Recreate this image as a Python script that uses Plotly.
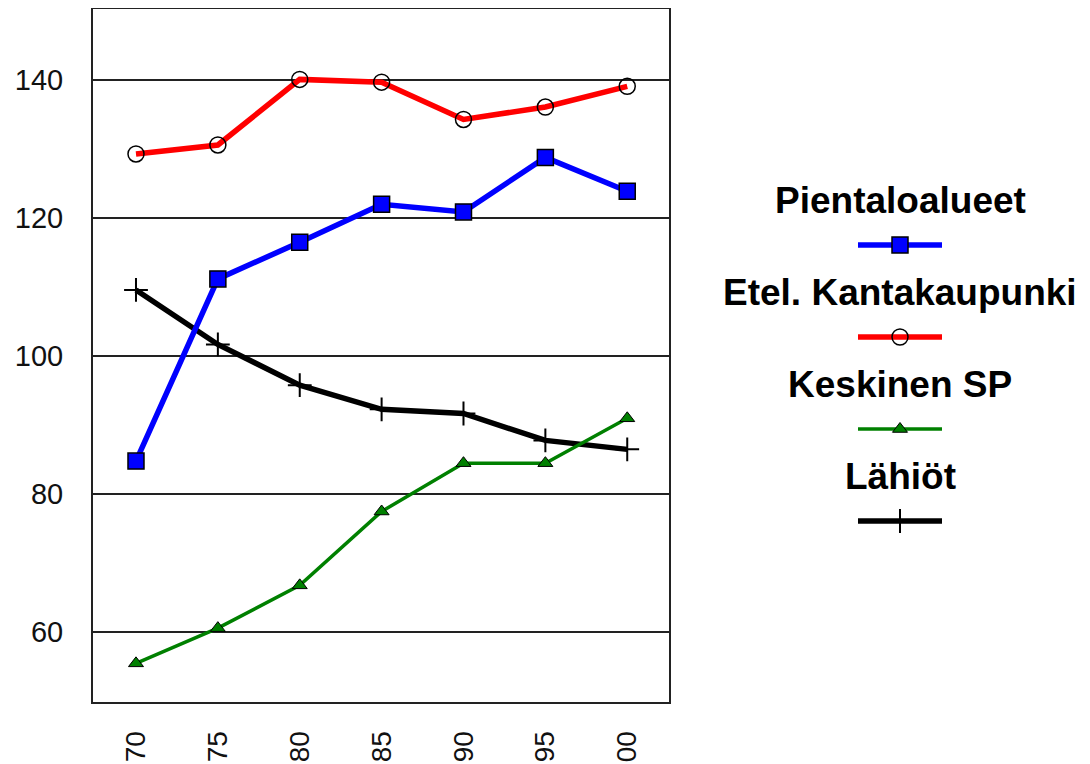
import plotly.graph_objects as go

# ---- data ----
years = ["70", "75", "80", "85", "90", "95", "00"]
pientaloalueet = [84.8, 111.2, 116.5, 122.0, 120.9, 128.8, 123.9]
etel_kantakaupunki = [129.3, 130.6, 140.1, 139.7, 134.3, 136.1, 139.1]
keskinen_sp = [55.5, 60.6, 66.8, 77.5, 84.5, 84.5, 91.0]
lahiot = [109.6, 101.7, 95.8, 92.3, 91.7, 87.8, 86.5]
y_ticks = [60, 80, 100, 120, 140]

series = [
    # name, values, line colour, line width, marker symbol, marker size, marker fill, outline colour, outline width
    ("Lähiöt", lahiot, "#000000", 5.5, "cross-thin", 17, "#000000", "#000000", 2),
    ("Pientaloalueet", pientaloalueet, "#0000ff", 5.5, "square", 16, "#0000ff", "#000000", 1.5),
    ("Etel. Kantakaupunki", etel_kantakaupunki, "#ff0000", 5.5, "circle-open", 16, "#000000", "#000000", 1.5),
    ("Keskinen SP", keskinen_sp, "#008000", 3.5, "triangle-up", 13, "#008000", "#000000", 1),
]
legend_order = ["Pientaloalueet", "Etel. Kantakaupunki", "Keskinen SP", "Lähiöt"]

FONT = "Arial, Liberation Sans, sans-serif"
# the page body adds an 8px offset, so the figure is laid out 8px up/left of the target view
OFF = 8
W, H = 1090 - OFF, 764 - OFF
ML, MT = 93 - OFF, 9 - OFF
PLOT_RIGHT = 669 - OFF
PLOT_BOTTOM = 702 - OFF
MB = H - PLOT_BOTTOM

fig = go.Figure()
for name, vals, col, lw, sym, ms, mfill, mline, mlw in series:
    fig.add_trace(go.Scatter(
        x=years, y=vals, mode="lines+markers", name=name,
        line=dict(color=col, width=lw),
        marker=dict(symbol=sym, size=ms, color=mfill, line=dict(color=mline, width=mlw)),
        showlegend=False, xaxis="x", yaxis="y",
    ))

# ---- custom legend (title above line sample), drawn on a pixel-scaled side axis ----
style = {s[0]: s for s in series}
leg_cx, leg_half = 900 - OFF, 42
title_y0, sample_y0, step = 200 - OFF, 245 - OFF, 92
annotations = []
for i, name in enumerate(legend_order):
    _, _, col, lw, sym, ms, mfill, mline, mlw = style[name]
    ty = title_y0 + i * step
    sy = sample_y0 + i * step
    annotations.append(dict(x=leg_cx, y=ty, xref="x2", yref="y2", text="<b>%s</b>" % name,
                            showarrow=False, font=dict(family=FONT, size=37, color="#000000"),
                            xanchor="center", yanchor="middle"))
    fig.add_trace(go.Scatter(x=[leg_cx - leg_half, leg_cx + leg_half], y=[sy, sy], mode="lines",
                             line=dict(color=col, width=lw), showlegend=False,
                             xaxis="x2", yaxis="y2", hoverinfo="skip"))
    fig.add_trace(go.Scatter(x=[leg_cx], y=[sy], mode="markers",
                             marker=dict(symbol=sym, size=ms, color=mfill, line=dict(color=mline, width=mlw)),
                             showlegend=False, xaxis="x2", yaxis="y2", hoverinfo="skip"))

plot_w = W - ML
dom_end = (PLOT_RIGHT - ML) / plot_w
side_start = dom_end + 0.01
fig.update_layout(
    width=W, height=H,
    margin=dict(l=ML, r=0, t=MT, b=MB, pad=0, autoexpand=False),
    paper_bgcolor="white", plot_bgcolor="white",
    font=dict(family=FONT, color="#000000"),
    xaxis=dict(
        domain=[0, dom_end], type="category", range=[-0.525, 6.51],
        tickangle=-90, tickfont=dict(size=28, family=FONT, color="#111111"),
        showgrid=False, showline=True, mirror=True, linecolor="#222222", linewidth=2,
        ticks="", ticklabelstandoff=16, zeroline=False, fixedrange=True, automargin=False,
    ),
    yaxis=dict(
        range=[49.9, 150.3], tickvals=y_ticks, ticktext=[str(v) for v in y_ticks],
        tickfont=dict(size=29, family=FONT, color="#111111"),
        showgrid=True, gridcolor="#222222", gridwidth=1.5,
        showline=True, mirror=True, linecolor="#222222", linewidth=2,
        ticks="", ticklabelstandoff=22, zeroline=False, fixedrange=True, automargin=False,
    ),
    xaxis2=dict(domain=[side_start, 1], range=[ML + side_start * plot_w, W], visible=False,
                anchor="y2", fixedrange=True, automargin=False),
    yaxis2=dict(domain=[0, 1], range=[H - MB, MT], visible=False, anchor="x2", fixedrange=True,
                automargin=False),
    annotations=annotations,
)

fig.write_html("out.html")
